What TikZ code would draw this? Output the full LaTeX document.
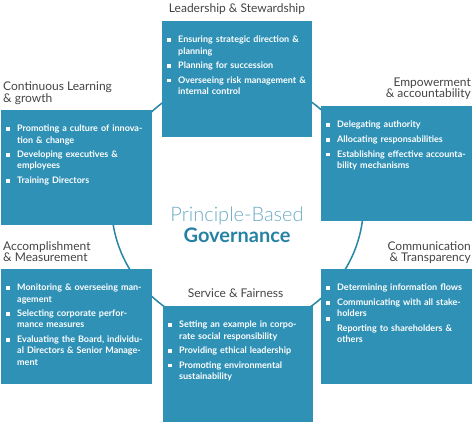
\documentclass[tikz,border=0pt]{standalone}
\usepackage{fontspec}
\setmainfont{Lato}
\IfFontExistsTF{Lato Light}{\newfontfamily\latolight{Lato Light}}{\newfontfamily\latolight{Lato}}
\usetikzlibrary{calc}

\definecolor{boxblue}{RGB}{47,145,182}
\definecolor{ringteal}{RGB}{38,134,164}
\definecolor{headgray}{RGB}{68,68,68}
\definecolor{titlelight}{RGB}{108,170,196}
\definecolor{titledark}{RGB}{38,130,164}

% square bullet with hanging indent
\newcommand{\bul}[1][1pt]{\makebox[11pt][l]{\smash{\rule[#1]{3.5pt}{3.5pt}}}}
\newcommand{\itm}[2][1pt]{\hangindent=11pt\hangafter=1\noindent\bul[#1]#2\par}

\begin{document}
\begin{tikzpicture}[x=1pt, y=-1pt,
  ring/.style={draw=ringteal, line width=1.5pt},
  box/.style={anchor=north west, fill=boxblue, inner sep=0pt, minimum width=151pt, minimum height=115pt},
  items/.style={anchor=north west, inner sep=0pt, text width=200pt, align=left, text=white,
    font=\fontsize{9}{11.2}\selectfont\bfseries, execute at begin node={\setlength{\parskip}{3.5pt}}},
  head/.style={inner sep=0pt, text=headgray, font=\fontsize{12}{11}\selectfont, align=left}]
  \useasboundingbox (0,0) rectangle (474,424);
  % ring behind the boxes
  \draw[ring] (237.5,204) circle[radius=126pt];
  % boxes
  \node[box, minimum width=150pt, minimum height=116pt] (lead) at (162,21) {};
  \node[box] (learn) at (1,110) {};
  \node[box] (empow) at (321,106) {};
  \node[box] (accomp) at (1,269) {};
  \node[box] (comm) at (321,269) {};
  \node[box, minimum width=150pt, minimum height=116pt] (serv) at (163,306) {};
  % headings
  \node[head, anchor=north] (leadhd) at (237,3.5) {Leadership \& Stewardship};
  \node[head, anchor=north west] (learnhd) at (3,81.5) {Continuous Learning\\\& growth};
  \node[head, anchor=north east, align=right] (empowhd) at (471,77.5) {Empowerment\\\& accountability};
  \node[head, anchor=north west] (accomphd) at (3,241) {Accomplishment\\\& Measurement};
  \node[head, anchor=north east, align=right] (commhd) at (471,241) {Communication\\\& Transparency};
  \node[head, anchor=north] (servhd) at (235.5,289) {Service \& Fairness};
  % bullet lists
  \node[items] (leadtxt) at ([shift={(5,15)}]lead.north west) {%
    \itm{Ensuring strategic direction \&\newline planning}%
    \itm{Planning for succession}%
    \itm{Overseeing risk management \&\newline internal control}};
  \node[items] (learntxt) at ([shift={(5,15)}]learn.north west) {%
    \itm{Promoting a culture of innova-\newline tion \& change}%
    \itm{Developing executives \&\newline employees}%
    \itm{Training Directors}};
  \node[items] (empowtxt) at ([shift={(5,15)}]empow.north west) {%
    \itm{Delegating authority}%
    \itm{Allocating responsabilities}%
    \itm{Establishing effective accounta-\newline bility mechanisms}};
  \node[items] (accomptxt) at ([shift={(5,15)}]accomp.north west) {%
    \itm{Monitoring \& overseeing man-\newline agement}%
    \itm{Selecting corporate perfor-\newline mance measures}%
    \itm{Evaluating the Board, individu-\newline al Directors \& Senior Manage-\newline ment}};
  \node[items] (commtxt) at ([shift={(5,15)}]comm.north west) {%
    \itm{Determining information flows}%
    \itm{Communicating with all stake-\newline holders}%
    \itm[10.5pt]{Reporting to shareholders \&\newline others}};
  \node[items] (servtxt) at ([shift={(5,15)}]serv.north west) {%
    \itm{Setting an example in corpo-\newline rate social responsibility}%
    \itm{Providing ethical leadership}%
    \itm{Promoting environmental\newline sustainability}};
  % centre title
  \node[inner sep=0pt, anchor=base, font=\latolight\fontsize{20}{20}\selectfont, text=titlelight] (princ) at (237,221.7) {Principle-Based};
  \node[inner sep=0pt, anchor=base, font=\fontsize{20}{20}\selectfont\bfseries, text=titledark] (gov) at (237,242.3) {Governance};
\end{tikzpicture}
\end{document}
